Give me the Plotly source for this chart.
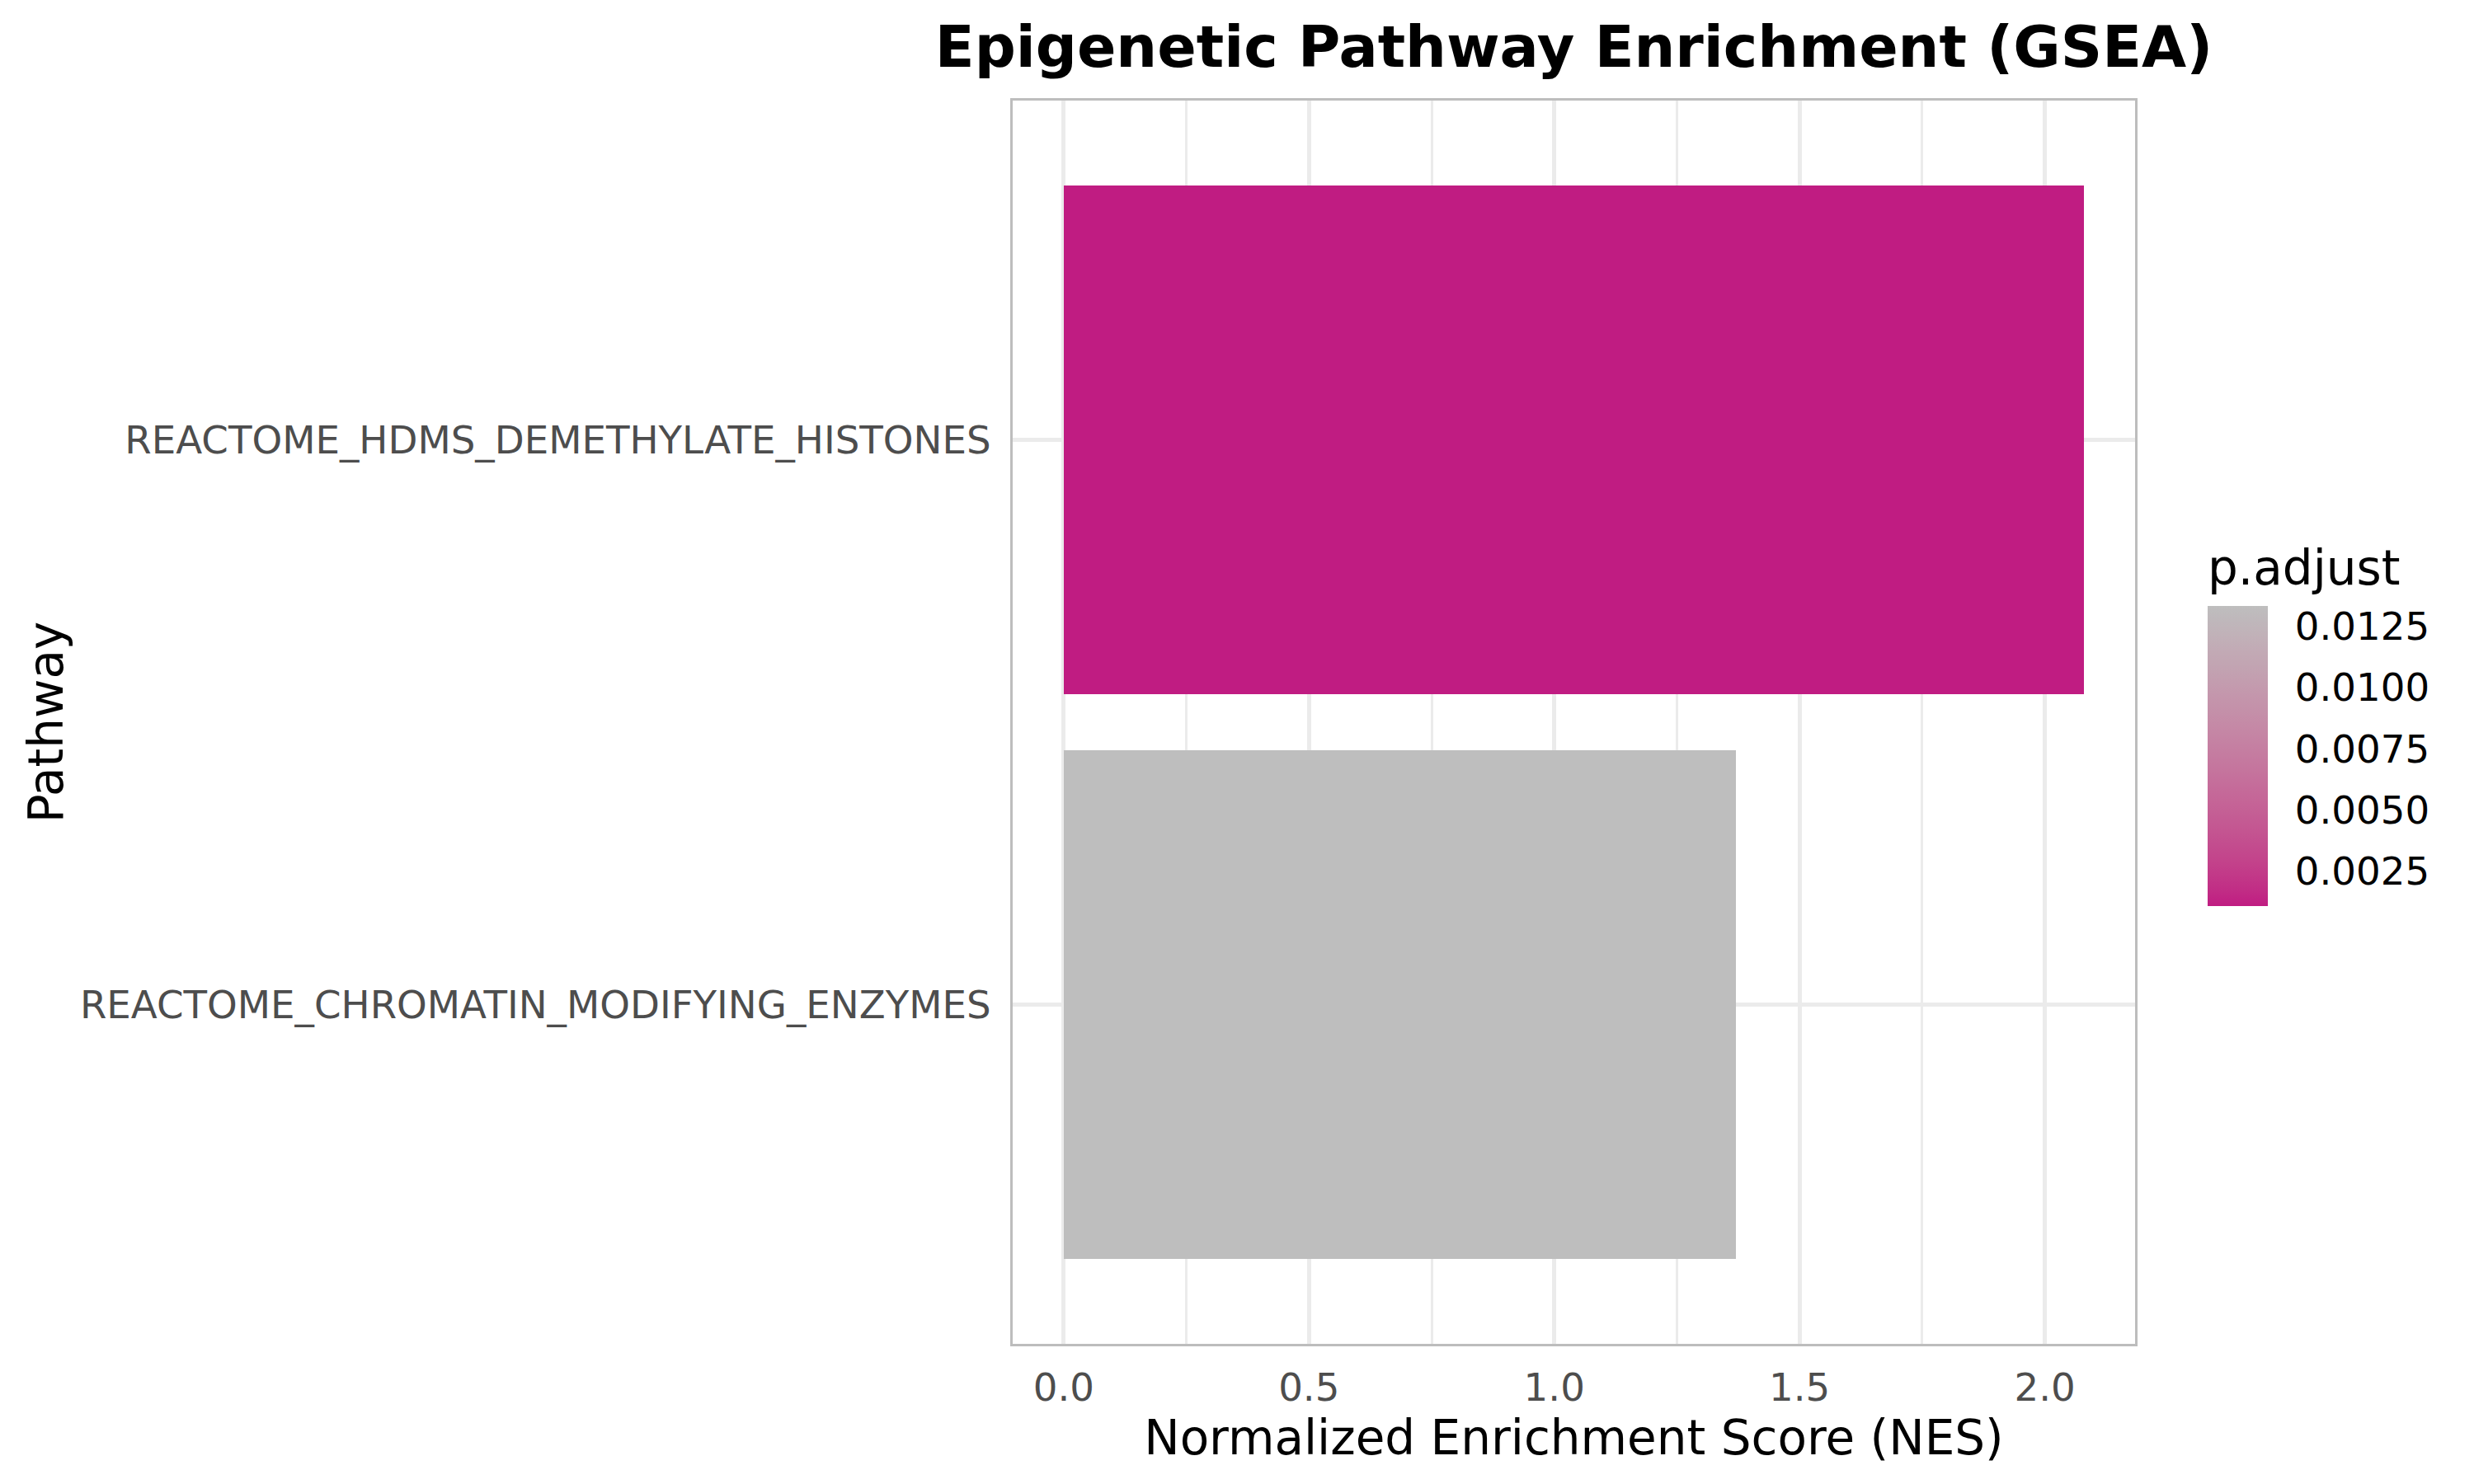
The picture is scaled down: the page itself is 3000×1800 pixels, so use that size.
import plotly.graph_objects as go
import numpy as np

# ---- data ----
pathways = ["REACTOME_CHROMATIN_MODIFYING_ENZYMES", "REACTOME_HDMS_DEMETHYLATE_HISTONES"]
nes = [1.37, 2.08]
p_adjust = [0.01334, 0.00106]
cbar_ticks = [0.0025, 0.0050, 0.0075, 0.0100, 0.0125]
x_ticks = [0.0, 0.5, 1.0, 1.5, 2.0]

LOW = (192, 28, 130)
HIGH = (190, 190, 190)

# ---- Lab interpolation for gradient (like ggplot scale_fill_gradient) ----
def srgb_to_lin(c):
    c = c / 255.0
    return np.where(c <= 0.04045, c / 12.92, ((c + 0.055) / 1.055) ** 2.4)

def lin_to_srgb(c):
    c = np.clip(c, 0, 1)
    return np.where(c <= 0.0031308, 12.92 * c, 1.055 * c ** (1 / 2.4) - 0.055) * 255

M = np.array([[0.4124, 0.3576, 0.1805], [0.2126, 0.7152, 0.0722], [0.0193, 0.1192, 0.9505]])
Minv = np.linalg.inv(M)
WP = np.array([0.95047, 1.0, 1.08883])

def f(t):
    return np.where(t > (6 / 29) ** 3, np.cbrt(t), t / (3 * (6 / 29) ** 2) + 4 / 29)

def finv(t):
    return np.where(t > 6 / 29, t ** 3, 3 * (6 / 29) ** 2 * (t - 4 / 29))

def rgb_to_lab(rgb):
    xyz = M @ srgb_to_lin(np.array(rgb, float)) / WP
    fx, fy, fz = f(xyz)
    return np.array([116 * fy - 16, 500 * (fx - fy), 200 * (fy - fz)])

def lab_to_rgb(lab):
    L, a, b = lab
    fy = (L + 16) / 116
    fx = fy + a / 500
    fz = fy - b / 200
    xyz = np.array([finv(fx), finv(fy), finv(fz)]) * WP
    return lin_to_srgb(Minv @ xyz)

lab_lo, lab_hi = rgb_to_lab(LOW), rgb_to_lab(HIGH)
colorscale = []
for t in np.linspace(0, 1, 21):
    r, g, b = lab_to_rgb(lab_lo + (lab_hi - lab_lo) * t)
    colorscale.append([float(t), f"rgb({int(round(r))},{int(round(g))},{int(round(b))})"])

FONT = "DejaVu Sans"

fig = go.Figure(
    go.Bar(
        x=nes,
        y=pathways,
        orientation="h",
        width=0.9,
        marker=dict(
            color=p_adjust,
            colorscale=colorscale,
            cmin=min(p_adjust),
            cmax=max(p_adjust),
            line=dict(width=0),
            showscale=True,
            colorbar=dict(
                title=dict(text="p.adjust", side="top", font=dict(family=FONT, size=58, color="black")),
                tickvals=cbar_ticks,
                tickformat=".4f",
                tickfont=dict(family=FONT, size=46.7, color="black"),
                ticks="outside",
                ticklen=24,
                tickcolor="rgba(0,0,0,0)",
                thickness=73,
                thicknessmode="pixels",
                len=437,
                lenmode="pixels",
                x=1.0647,
                xanchor="left",
                xpad=0,
                y=0.3521,
                yanchor="bottom",
                ypad=0,
                outlinewidth=0,
            ),
        ),
    )
)

xmax = max(nes)
fig.update_layout(
    width=3000,
    height=1800,
    margin=dict(l=1228, r=411, t=122, b=170),
    paper_bgcolor="white",
    plot_bgcolor="white",
    font=dict(family=FONT),
    title=dict(
        text="<b>Epigenetic Pathway Enrichment (GSEA)</b>",
        font=dict(family=FONT, size=70, color="black"),
        x=0.5,
        xref="paper",
        xanchor="center",
        y=1 - 32 / 1800,
        yref="container",
        yanchor="top",
    ),
    showlegend=False,
    bargap=0,
)

fig.update_xaxes(
    range=[-0.05 * xmax, 1.05 * xmax],
    tickvals=x_ticks,
    tickformat=".1f",
    tickfont=dict(family=FONT, size=46.7, color="#4D4D4D"),
    ticks="outside",
    ticklen=10,
    tickcolor="rgba(0,0,0,0)",
    showgrid=True,
    gridcolor="#EBEBEB",
    gridwidth=5,
    minor=dict(dtick=0.25, tick0=0, showgrid=True, gridcolor="#EBEBEB", gridwidth=2.8),
    zeroline=False,
    showline=True,
    linecolor="#BDBDBD",
    linewidth=3,
    mirror=True,
    title=dict(text="Normalized Enrichment Score (NES)", font=dict(family=FONT, size=58, color="black"), standoff=14),
)

fig.update_yaxes(
    type="category",
    categoryorder="array",
    categoryarray=pathways,
    range=[-0.6, len(pathways) - 1 + 0.6],
    tickfont=dict(family=FONT, size=46.7, color="#4D4D4D"),
    ticks="outside",
    ticklen=14,
    tickcolor="rgba(0,0,0,0)",
    showgrid=True,
    gridcolor="#EBEBEB",
    gridwidth=5,
    zeroline=False,
    showline=True,
    linecolor="#BDBDBD",
    linewidth=3,
    mirror=True,
    title=dict(text="Pathway", font=dict(family=FONT, size=58, color="black"), standoff=2),
)

fig.write_html("out.html")
